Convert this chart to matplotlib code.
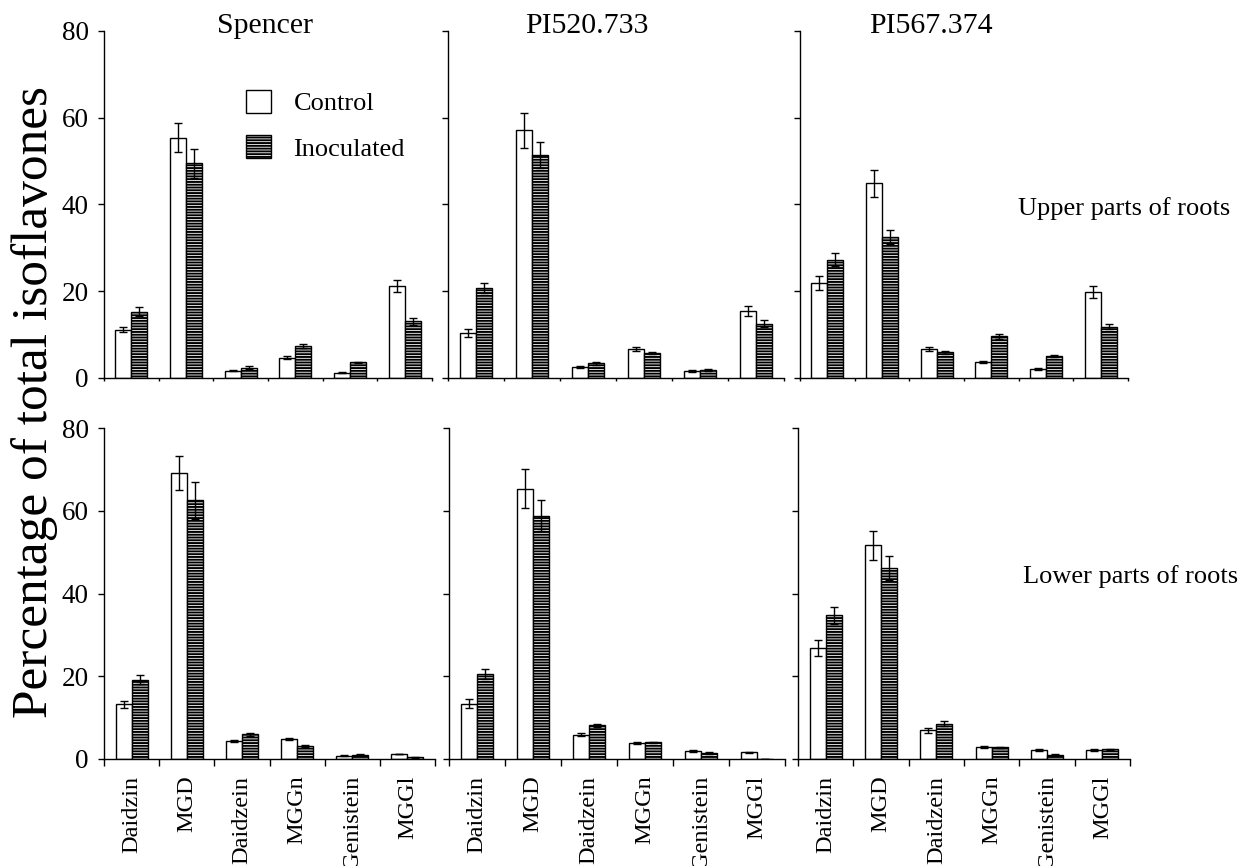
import matplotlib
matplotlib.use("Agg")
import matplotlib.pyplot as plt
import numpy as np

plt.rcParams['font.family'] = ['Liberation Serif', 'DejaVu Serif']
plt.rcParams['hatch.linewidth'] = 1.4

compounds = ["Daidzin", "MGD", "Daidzein", "MGGn", "Genistein", "MGGl"]
cultivars = ["Spencer", "PI520.733", "PI567.374"]

# upper parts of roots (% of total isoflavones, mean and error)
spencer_up_ctrl = [11.1, 55.4, 1.7, 4.7, 1.2, 21.2]
spencer_up_ctrl_err = [0.6, 3.3, 0.2, 0.4, 0.1, 1.3]
spencer_up_inoc = [15.3, 49.5, 2.4, 7.4, 3.6, 13.1]
spencer_up_inoc_err = [1.0, 3.4, 0.3, 0.5, 0.2, 0.8]

pi520_up_ctrl = [10.3, 57.1, 2.5, 6.7, 1.6, 15.5]
pi520_up_ctrl_err = [0.9, 4.0, 0.3, 0.4, 0.2, 1.1]
pi520_up_inoc = [20.8, 51.4, 3.4, 5.8, 1.9, 12.5]
pi520_up_inoc_err = [1.1, 3.0, 0.3, 0.3, 0.2, 0.8]

pi567_up_ctrl = [21.9, 44.9, 6.7, 3.7, 2.1, 19.8]
pi567_up_ctrl_err = [1.6, 3.1, 0.5, 0.3, 0.2, 1.3]
pi567_up_inoc = [27.3, 32.5, 5.9, 9.6, 5.0, 11.8]
pi567_up_inoc_err = [1.5, 1.7, 0.3, 0.5, 0.2, 0.6]

# lower parts of roots
spencer_low_ctrl = [13.2, 69.1, 4.4, 4.8, 0.8, 1.2]
spencer_low_ctrl_err = [0.8, 4.2, 0.3, 0.3, 0.1, 0.1]
spencer_low_inoc = [19.2, 62.5, 6.0, 3.2, 1.0, 0.4]
spencer_low_inoc_err = [1.1, 4.4, 0.4, 0.3, 0.1, 0.1]

pi520_low_ctrl = [13.4, 65.3, 5.9, 3.8, 1.9, 1.6]
pi520_low_ctrl_err = [1.0, 4.7, 0.4, 0.2, 0.2, 0.2]
pi520_low_inoc = [20.6, 58.8, 8.1, 4.0, 1.4, 0.0]
pi520_low_inoc_err = [1.2, 3.7, 0.4, 0.2, 0.2, 0.0]

pi567_low_ctrl = [26.9, 51.7, 6.9, 2.9, 2.2, 2.2]
pi567_low_ctrl_err = [1.9, 3.5, 0.5, 0.3, 0.2, 0.2]
pi567_low_inoc = [34.7, 46.1, 8.5, 2.8, 1.0, 2.3]
pi567_low_inoc_err = [2.1, 2.9, 0.6, 0.2, 0.2, 0.2]

upper = [
    (spencer_up_ctrl, spencer_up_ctrl_err, spencer_up_inoc, spencer_up_inoc_err),
    (pi520_up_ctrl, pi520_up_ctrl_err, pi520_up_inoc, pi520_up_inoc_err),
    (pi567_up_ctrl, pi567_up_ctrl_err, pi567_up_inoc, pi567_up_inoc_err),
]
lower = [
    (spencer_low_ctrl, spencer_low_ctrl_err, spencer_low_inoc, spencer_low_inoc_err),
    (pi520_low_ctrl, pi520_low_ctrl_err, pi520_low_inoc, pi520_low_inoc_err),
    (pi567_low_ctrl, pi567_low_ctrl_err, pi567_low_inoc, pi567_low_inoc_err),
]

W, H = 1247, 866
fig = plt.figure(figsize=(W / 100, H / 100), dpi=100)

# panel layout in pixels: (left, width, xmax)
top_cols = [(104, 328, 5.9), (448, 336, 6.0), (800, 328, 6.0)]
bot_cols = [(104, 331, 5.9), (449, 336, 5.85), (798, 332, 6.0)]
rows = [(31, 378, upper, top_cols, False), (428, 759, lower, bot_cols, True)]

x = np.arange(len(compounds)) + 0.5
w = 0.29
handles = None

for top_px, bot_px, data, cols, show_labels in rows:
    for j, (left, width, xmax) in enumerate(cols):
        ax = fig.add_axes([left / W, 1 - bot_px / H, width / W, (bot_px - top_px) / H])
        ctrl, ctrl_err, inoc, inoc_err = data[j]
        b1 = ax.bar(x - w / 2, ctrl, w, color='white', edgecolor='black', linewidth=1.0,
                    label='Control')
        b2 = ax.bar(x + w / 2, inoc, w, color='white', edgecolor='black', linewidth=1.0,
                    hatch='------', label='Inoculated')
        ax.errorbar(x - w / 2, ctrl, yerr=ctrl_err, fmt='none', ecolor='black',
                    elinewidth=1.0, capsize=3, capthick=1.0)
        ax.errorbar(x + w / 2, inoc, yerr=inoc_err, fmt='none', ecolor='black',
                    elinewidth=1.0, capsize=3, capthick=1.0)
        if handles is None:
            handles = [b1, b2]

        ax.set_xlim(0, xmax)
        ax.set_ylim(0, 80)
        for s in ['top', 'right']:
            ax.spines[s].set_visible(False)
        for s in ['left', 'bottom']:
            ax.spines[s].set_linewidth(1.0)

        ax.set_xticks(np.arange(7))
        ax.set_xticklabels([])
        ax.tick_params(axis='x', which='major', direction='out',
                       length=5 if show_labels else 2, width=1.0)
        if show_labels:
            ax.set_xticks(x, compounds, minor=True, rotation=90, fontsize=17.5)
        else:
            ax.set_xticks(x, minor=True)
        ax.tick_params(axis='x', which='minor', length=0, pad=12)

        ax.set_yticks([0, 20, 40, 60, 80])
        ax.tick_params(axis='y', direction='out', length=4, width=1.0, labelsize=19.5, pad=7)
        if j > 0:
            ax.set_yticklabels([])

# cultivar titles
for cx, name in zip([265, 587, 931], cultivars):
    fig.text(cx / W, 1 - 33 / H, name, ha='center', va='baseline', fontsize=21.5)

fig.text(1018 / W, 1 - 215 / H, "Upper parts of roots", ha='left', va='baseline', fontsize=19)
fig.text(1023 / W, 1 - 583 / H, "Lower parts of roots", ha='left', va='baseline', fontsize=19)

fig.text(35 / W, 1 - 402 / H, "Percentage of total isoflavones", rotation=90,
         ha='center', va='center', fontsize=37)

fig.legend(handles, ['Control', 'Inoculated'], loc='upper left',
           bbox_to_anchor=(246 / W, 1 - 90 / H), frameon=False, fontsize=19,
           handlelength=0.95, handleheight=0.95, handletextpad=0.85,
           labelspacing=0.75, borderpad=0, borderaxespad=0)

fig.savefig("out.png", dpi=100)
